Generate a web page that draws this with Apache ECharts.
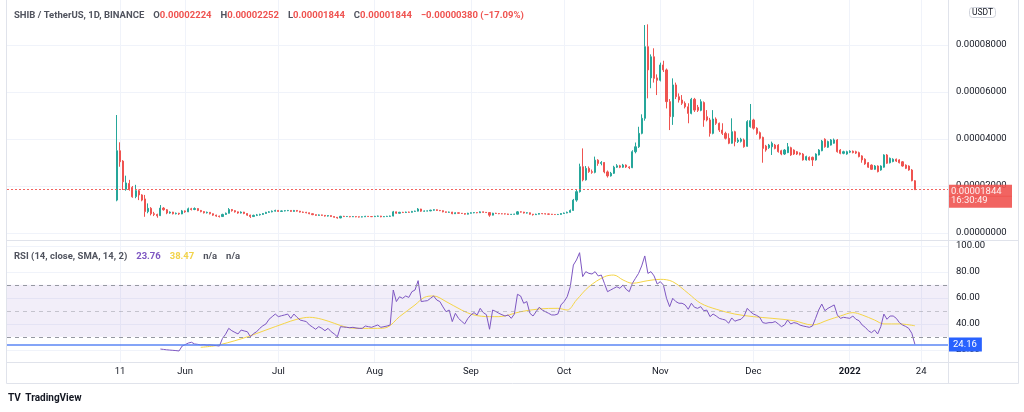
<!DOCTYPE html>
<html><head><meta charset="utf-8">
<script src="https://cdn.jsdelivr.net/npm/echarts@6/dist/echarts.min.js"></script>
<style>html,body{margin:0;padding:0;background:#fff}#c{width:1024px;height:412px}</style>
</head><body><div id="c"></div>
<script>
// SHIB/USDT daily candles, day 0 = 2021-05-10. Prices in micro-USDT (x 1e-6 USDT).
const firstDay = '2021-05-10';
const open = [
14.0,35.0,30.6,18.6,21.1,19.4,15.5,18.0,16.2,14.5,
9.1,10.5,8.2,7.9,7.4,10.6,9.9,8.5,8.9,8.2,
8.4,8.1,9.4,9.0,10.3,10.0,10.4,9.6,9.1,8.6,
8.8,8.2,7.6,7.2,7.0,7.9,8.4,10.0,9.5,9.0,
8.5,8.9,8.3,7.6,7.0,7.5,7.7,7.9,8.3,8.8,
9.0,9.3,9.6,9.2,9.4,9.5,9.6,9.2,9.6,9.3,
8.9,8.8,8.6,8.2,7.8,7.5,7.7,7.5,7.2,7.4,
7.0,6.7,6.4,7.1,7.0,7.05,6.9,7.0,6.9,6.8,
6.9,7.1,7.0,6.95,7.1,7.2,6.9,7.0,7.1,7.2,
9.0,8.4,8.8,8.7,8.9,8.8,9.2,9.3,10.2,9.3,
9.35,9.4,9.7,9.9,9.6,9.5,9.0,8.8,8.9,8.2,
8.6,8.4,8.3,8.0,8.4,8.6,8.7,8.6,9.0,8.8,
8.7,7.6,8.4,8.3,8.2,8.15,8.1,7.9,7.95,8.0,
9.0,8.9,8.5,8.6,8.0,7.8,8.0,8.3,8.2,8.1,
8.0,7.9,7.85,7.9,8.3,8.5,8.8,9.6,14.0,17.6,
28.2,22.6,27.5,26.1,25.8,31.0,29.6,30.0,26.0,24.3,
25.4,28.0,28.6,28.0,28.9,28.1,27.8,34.6,36.7,42.4,
48.8,79.3,66.0,75.0,66.0,65.0,71.5,69.4,55.9,49.5,
63.0,58.0,56.6,55.2,53.7,50.9,56.9,53.5,52.2,55.5,
49.5,48.1,42.4,48.5,46.7,43.8,42.4,40.3,38.2,43.1,
38.9,39.0,39.6,36.9,45.2,48.1,44.6,42.7,40.7,37.0,
36.3,36.7,37.4,37.4,35.0,33.6,34.2,36.3,35.3,34.6,
34.0,33.6,31.1,32.2,32.2,31.1,33.2,35.0,39.9,36.5,
37.4,38.2,39.6,35.3,33.9,33.6,34.4,34.8,34.6,34.2,
32.8,31.4,29.9,28.9,27.1,28.5,26.8,28.0,33.2,29.9,
30.4,31.4,31.1,30.3,28.9,28.5,26.8,22.24];
const close = [
35.0,30.3,21.8,21.3,18.6,15.4,18.0,16.2,14.0,9.1,
10.5,8.2,7.9,7.3,10.6,9.9,8.5,8.9,8.2,8.4,
8.1,9.4,9.0,10.3,10.0,10.4,9.6,9.1,8.6,8.8,
8.2,7.6,7.2,7.0,7.9,8.4,10.0,9.5,9.0,8.5,
8.9,8.3,7.6,7.0,7.5,7.7,7.9,8.3,8.8,9.0,
9.3,9.6,9.2,9.4,9.5,9.6,9.2,9.6,9.3,8.9,
8.8,8.6,8.2,7.8,7.5,7.7,7.5,7.2,7.4,7.0,
6.7,6.4,7.1,7.0,7.05,6.9,7.0,6.9,6.8,6.9,
7.1,7.0,6.95,7.1,7.2,6.9,7.0,7.1,7.2,9.0,
8.4,8.8,8.7,8.9,8.8,9.2,9.3,10.2,9.3,9.35,
9.4,9.7,9.9,9.6,9.5,9.0,8.8,8.9,8.2,8.6,
8.4,8.3,8.0,8.4,8.6,8.7,8.6,9.0,8.8,8.7,
7.6,8.4,8.3,8.2,8.15,8.1,7.9,7.95,8.0,9.0,
8.9,8.5,8.6,8.0,7.8,8.0,8.3,8.2,8.1,8.0,
7.9,7.85,7.9,8.3,8.5,8.8,9.6,14.0,17.6,28.2,
22.6,27.5,26.1,25.8,31.0,29.6,30.0,26.0,24.3,25.4,
28.0,28.6,28.0,28.9,28.1,27.8,34.6,36.7,42.4,48.8,
79.3,69.4,75.0,65.8,65.0,71.5,69.4,55.9,49.5,63.0,
58.0,56.6,55.2,53.7,50.9,56.9,52.3,52.2,55.9,48.1,
48.1,42.4,48.5,46.7,43.8,42.4,40.3,38.2,43.1,38.9,
39.6,39.9,36.7,47.4,47.8,44.6,42.4,40.3,36.0,35.3,
37.4,38.2,36.0,34.6,33.6,35.3,36.7,33.2,33.6,33.6,
33.5,31.1,32.5,31.1,31.1,33.6,35.3,39.1,36.7,38.9,
39.6,39.6,34.6,33.9,34.6,34.6,34.8,34.2,34.0,32.5,
31.1,29.4,28.0,27.1,28.5,26.1,28.5,33.2,29.7,31.8,
31.4,30.6,29.9,28.5,27.5,26.8,22.24,18.44];
const low = [
13.5,28.2,18.3,18.0,18.0,15.0,14.8,14.0,13.5,6.9,
8.4,7.5,7.2,6.5,7.2,9.5,8.0,8.2,7.9,7.9,
7.7,8.0,8.6,8.9,9.6,9.7,9.3,8.8,8.3,8.3,
7.9,7.3,6.9,6.6,6.9,7.7,8.3,9.1,8.7,8.2,
8.3,8.0,7.3,6.4,6.8,7.2,7.4,7.7,8.1,8.6,
8.8,9.1,9.0,9.0,9.2,9.3,9.0,9.1,9.1,8.7,
8.5,8.4,8.0,7.6,7.3,7.3,7.3,7.0,7.0,6.8,
6.5,6.1,6.3,6.8,6.8,6.7,6.8,6.7,6.6,6.7,
6.8,6.8,6.8,6.8,6.9,6.7,6.8,6.9,6.9,7.1,
8.2,8.3,8.5,8.5,8.6,8.7,9.0,9.2,9.0,9.1,
9.2,9.3,9.5,9.4,9.3,8.8,8.6,8.6,8.0,8.1,
8.2,8.1,7.8,7.9,8.3,8.4,8.4,8.5,8.6,8.5,
6.9,7.5,8.1,8.0,8.0,7.9,7.7,7.7,7.8,7.9,
8.7,8.3,8.3,7.8,7.4,7.7,7.9,8.0,7.9,7.8,
7.7,7.7,7.7,7.8,8.2,8.4,8.7,9.5,13.3,17.2,
22.0,22.3,25.6,25.2,25.4,28.6,28.8,25.4,23.6,24.0,
25.1,27.7,27.6,27.7,27.7,27.2,27.6,33.9,36.2,42.0,
47.8,57.3,61.6,64.0,58.7,64.5,68.5,53.0,43.8,46.0,
57.0,55.5,54.5,53.0,46.7,50.5,51.5,51.5,51.8,45.2,
47.5,41.0,42.0,46.0,43.0,41.7,39.8,37.8,38.0,36.9,
38.3,38.5,36.3,36.7,44.8,44.0,41.8,39.8,29.9,34.6,
35.8,33.2,35.6,34.2,33.1,33.2,34.0,32.8,33.2,33.2,
33.0,30.8,30.8,30.8,28.5,30.8,33.0,34.8,36.3,36.2,
37.2,38.0,34.2,33.5,33.5,33.3,34.0,33.9,33.6,32.2,
29.9,29.0,27.7,26.8,26.9,25.8,26.5,27.8,29.4,29.6,
30.1,30.2,29.6,28.2,27.2,26.5,22.0,18.44];
const high = [
50.2,38.6,31.0,24.4,22.6,20.0,20.5,18.5,16.5,16.2,
12.6,11.0,9.0,8.2,11.9,11.0,10.2,9.2,9.0,8.7,
8.6,9.8,9.6,10.8,10.7,10.9,10.5,9.8,9.3,9.1,
8.9,8.3,7.8,7.4,8.2,8.7,10.6,10.2,9.7,9.1,
9.2,9.0,8.4,7.8,7.8,8.1,8.2,8.5,9.0,9.3,
9.6,9.9,9.8,9.6,9.7,9.8,9.7,9.8,9.7,9.4,
9.1,9.0,8.7,8.3,7.9,7.9,7.8,7.6,7.5,7.5,
7.1,6.8,7.3,7.3,7.2,7.1,7.2,7.1,7.0,7.1,
7.3,7.2,7.2,7.3,7.4,7.3,7.2,7.3,7.4,9.4,
9.1,9.0,9.0,9.1,9.1,9.4,9.5,10.6,10.3,9.6,
9.6,9.9,10.1,10.0,9.8,9.6,9.1,9.1,9.0,8.8,
8.7,8.5,8.4,8.6,8.8,8.9,8.8,9.2,9.1,8.9,
8.8,8.6,8.6,8.4,8.4,8.3,8.2,8.1,8.2,9.3,
9.2,9.0,8.8,8.7,8.1,8.2,8.5,8.4,8.3,8.2,
8.1,8.0,8.1,8.5,8.7,9.1,10.0,14.5,18.5,29.5,
36.0,28.5,28.3,27.0,32.5,31.4,30.6,30.2,26.6,26.0,
28.6,29.3,29.0,29.4,29.2,28.4,35.2,38.5,45.2,50.5,
88.5,88.8,76.0,78.6,67.5,72.5,73.3,70.0,57.0,65.8,
64.0,59.4,58.7,56.0,55.2,57.5,57.5,54.5,56.9,56.0,
52.3,49.0,52.3,49.2,47.0,46.7,43.1,42.4,48.8,43.5,
40.5,40.5,40.2,48.0,54.9,48.6,45.0,43.2,41.0,37.5,
37.9,38.9,37.9,37.8,35.4,35.7,38.3,36.7,35.6,34.9,
34.3,34.0,32.9,32.6,32.5,33.9,35.7,39.6,40.3,39.3,
40.0,40.2,40.0,35.7,35.0,35.0,35.2,35.1,35.0,34.6,
33.1,31.8,30.2,29.2,28.9,28.8,28.8,33.5,33.6,32.1,
31.8,31.7,31.4,30.6,29.2,28.8,27.2,22.52];

// RSI(14), first value on day 14
const rsiStartDay = 14;
const rsi = [
20.6,20.3,20.0,19.8,19.6,19.4,
19.1,22.9,24.0,25.2,25.8,24.5,24.2,23.8,24.0,23.6,
23.8,23.5,23.2,22.9,28.8,32.0,36.5,34.7,33.4,32.2,
35.2,34.5,33.9,30.0,32.5,33.9,36.5,38.5,39.9,43.5,
45.5,47.5,45.5,46.2,46.8,47.5,44.2,47.5,45.0,42.9,
42.3,41.7,39.1,37.5,35.8,37.8,36.5,34.7,36.5,33.9,
32.2,30.0,37.8,37.5,37.3,37.0,37.3,36.8,36.5,36.5,
38.3,37.8,37.3,38.2,39.1,37.3,37.8,38.3,39.1,66.0,
57.1,60.8,59.6,61.4,60.3,64.7,66.0,73.2,57.1,57.5,
57.8,59.6,61.4,58.3,57.1,53.0,49.3,50.6,41.7,48.1,
44.2,42.0,39.9,44.0,46.8,48.6,46.8,51.9,48.6,47.0,
35.8,50.6,49.5,48.1,47.0,46.0,46.8,44.2,47.5,62.7,
61.4,55.8,57.1,48.1,46.0,49.3,52.7,50.6,49.3,48.1,
46.8,46.8,47.5,54.5,57.1,60.8,68.5,85.2,89.1,94.7,
76.3,80.1,78.8,78.3,80.1,76.8,77.5,71.1,64.7,66.0,
67.3,68.5,67.3,69.9,66.5,64.7,71.1,75.0,78.8,84.5,
92.2,78.8,80.1,76.8,70.6,72.4,69.8,59.6,53.2,59.6,
57.1,55.8,55.8,54.5,51.2,55.8,52.7,51.9,53.2,50.1,
50.5,45.5,47.5,46.0,44.2,43.5,42.9,40.4,44.5,42.0,
42.9,43.5,46.0,51.9,49.3,47.5,46.5,45.0,40.9,40.4,
40.9,40.9,41.7,39.9,37.8,39.1,42.9,39.9,40.9,40.4,
39.0,38.3,37.8,37.3,38.3,44.2,50.6,55.2,50.1,51.9,
53.2,54.5,46.8,44.2,45.0,44.6,44.2,46.0,43.5,42.4,
39.1,37.3,34.7,33.2,35.2,32.2,37.8,47.5,43.5,46.0,
46.0,44.2,40.9,39.1,38.0,36.5,32.7,24.16];

// RSI-based SMA(14), values
const rsiMaDays = [27,31,33,38,42,48,54,58,62,66,70,74,78,84,87,91,96,99,102,106,111,115,120,123,130,136,142,145,148,152,157,160,163,166,171,175,179,184,188,193,199,205,211,218,224,229,233,237,240,244,247,252,257];
const rsiMaValues = [21.9,22.9,23.8,27.0,30.0,35.2,40.4,43.5,45.0,43.5,40.4,37.3,36.5,36.5,37.3,45.5,54.5,60.3,61.4,57.1,50.6,46.8,45.5,45.5,49.3,51.4,51.9,50.6,58.3,68.5,76.2,77.5,73.7,71.2,73.2,74.2,72.4,63.4,55.8,51.2,47.5,45.5,44.2,42.4,39.1,42.9,46.0,48.6,46.8,42.9,39.9,39.9,38.47];

const timeTickDays = [1,22,52,83,114,144,175,205,236,259];
const timeTickLabels = ['11','Jun','Jul','Aug','Sep','Oct','Nov','Dec','2022','24'];
const priceTicks = [0,20,40,60,80];
const rsiTicks = [20,40,60,80,100];
const rsiLevels = [70,50,30];

const headerText = '{g|SHIB / TetherUS, 1D, BINANCE}  {g|O}{r|0.00002224}  {g|H}{r|0.00002252}  {g|L}{r|0.00001844}  {g|C}{r|0.00001844}  {r|\u22120.00000380 (\u221217.09%)}';
const rsiHeaderText = '{g|RSI (14, close, SMA, 14, 2)}  {p|23.76}  {y|38.47}  {g|n/a}  {g|n/a}';
const countdown = '16:30:49';

const FONT = 'Roboto, "Noto Sans", sans-serif';
const FS = 9.5;
const GRID = '#f0f3fa';
const BORDER = '#e0e3eb';
const TXT = '#131722';
const UP = '#26a69a', DOWN = '#ef5350';

const candles = open.map((o, i) => [i, o, close[i], low[i], high[i]]);
const rsiData = rsi.map((v, i) => [rsiStartDay + i, v]);
const maData = rsiMaDays.map((d, i) => [d, rsiMaValues[i]]);
const lastClose = close[close.length - 1];
const lastRsi = rsi[rsi.length - 1];
const fmtPrice = v => (v / 1e6).toFixed(8);

const xMin = -35.4, xMax = 267.65;

const chart = echarts.init(document.getElementById('c'), null, {renderer: 'canvas'});
const frame = (x1, y1, x2, y2) => ({type: 'line', silent: true, z: 50, shape: {x1, y1, x2, y2}, style: {stroke: BORDER, lineWidth: 1}});

chart.setOption({
  animation: false,
  backgroundColor: '#ffffff',
  textStyle: {fontFamily: FONT},
  title: [
    {left: 14, top: 7, padding: 0, text: headerText, textStyle: {rich: {
      g: {color: '#50535e', fontSize: FS, fontFamily: FONT},
      r: {color: DOWN, fontSize: FS, fontFamily: FONT}}}},
    {left: 14, top: 248, padding: 0, text: rsiHeaderText, textStyle: {rich: {
      g: {color: '#50535e', fontSize: FS, fontFamily: FONT},
      p: {color: '#7e57c2', fontSize: FS, fontFamily: FONT},
      y: {color: '#f2d34b', fontSize: FS, fontFamily: FONT}}}},
    {left: 969, top: 7, padding: [1, 3, 1, 3], borderColor: '#d1d4dc', borderWidth: 1, borderRadius: 3,
      text: 'USDT', textStyle: {color: TXT, fontSize: 8.5, fontWeight: 'normal', fontFamily: FONT}},
    {left: 8, top: 389, padding: 0, text: '{l|TV} {t|TradingView}', textStyle: {rich: {
      l: {color: '#131722', fontSize: 10, fontWeight: 'bold', fontFamily: FONT},
      t: {color: '#131722', fontSize: 10, fontFamily: FONT}}}}
  ],
  grid: [
    {left: 7, top: 0, width: 941, height: 240, outerBoundsMode: 'none'},
    {left: 7, top: 240, width: 941, height: 122, outerBoundsMode: 'none'}
  ],
  xAxis: [
    {type: 'value', gridIndex: 0, min: xMin, max: xMax,
      axisLine: {show: false}, axisTick: {show: false, customValues: timeTickDays},
      axisLabel: {show: false, customValues: timeTickDays},
      splitLine: {show: true, lineStyle: {color: GRID, width: 1}}},
    {type: 'value', gridIndex: 1, min: xMin, max: xMax,
      axisLine: {show: false}, axisTick: {show: false, customValues: timeTickDays},
      axisLabel: {show: true, customValues: timeTickDays, margin: 5, color: TXT, fontSize: FS, fontFamily: FONT,
        formatter: v => {
          const k = timeTickDays.indexOf(Math.round(v));
          const t = k >= 0 ? timeTickLabels[k] : '';
          return /^\d{4}$/.test(t) ? '{b|' + t + '}' : t;
        },
        rich: {b: {fontWeight: 'bold', color: TXT, fontSize: FS, fontFamily: FONT}}},
      splitLine: {show: true, lineStyle: {color: GRID, width: 1}}}
  ],
  yAxis: [
    {type: 'value', gridIndex: 0, position: 'right', min: -2.98, max: 99.15,
      axisLine: {show: false}, axisTick: {show: false, customValues: priceTicks},
      axisLabel: {customValues: priceTicks, formatter: fmtPrice, margin: 8, color: TXT, fontSize: FS, fontFamily: FONT},
      splitLine: {show: true, lineStyle: {color: GRID, width: 1}}},
    {type: 'value', gridIndex: 1, position: 'right', min: 10.62, max: 104.46,
      axisLine: {show: false}, axisTick: {show: false, customValues: rsiTicks},
      axisLabel: {customValues: rsiTicks, formatter: v => v.toFixed(2), margin: 8, color: TXT, fontSize: FS, fontFamily: FONT},
      splitLine: {show: true, lineStyle: {color: GRID, width: 1}}}
  ],
  series: [
    {type: 'candlestick', name: 'SHIB', xAxisIndex: 0, yAxisIndex: 0,
      data: candles, encode: {x: 0, y: [1, 2, 3, 4]},
      barWidth: 1.6, large: false, progressive: 0,
      itemStyle: {color: UP, color0: DOWN, borderColor: UP, borderColor0: DOWN, borderWidth: 1},
      markLine: {silent: true, symbol: ['none', 'none'], animation: false,
        data: [{yAxis: lastClose,
          lineStyle: {color: DOWN, type: [2, 2], width: 1, opacity: 0.9},
          label: {show: true, position: 'end', distance: 0,
            formatter: () => '{e| }\n{a|' + fmtPrice(lastClose) + '}\n{b|' + countdown + '}',
            rich: {
              e: {height: 13, lineHeight: 13, fontSize: 1},
              a: {backgroundColor: DOWN, color: '#fff', width: 58, padding: [2, 3, 0, 3], fontSize: FS, lineHeight: 11, fontFamily: FONT},
              b: {backgroundColor: DOWN, color: '#fff', width: 58, padding: [0, 3, 2, 3], fontSize: FS, lineHeight: 11, fontFamily: FONT}
            }}}]}},
    {type: 'line', name: 'RSI', xAxisIndex: 1, yAxisIndex: 1, data: rsiData,
      showSymbol: false, symbol: 'none', lineStyle: {color: '#7e57c2', width: 1}, itemStyle: {color: '#7e57c2'}, z: 4,
      markArea: {silent: true, itemStyle: {color: 'rgba(126,87,194,0.1)'},
        data: [[{yAxis: rsiLevels[2]}, {yAxis: rsiLevels[0]}]]},
      markLine: {silent: true, symbol: ['none', 'none'], animation: false,
        data: [
          {yAxis: rsiLevels[0], lineStyle: {color: '#9598a1', type: [4, 4], width: 1}, label: {show: false}},
          {yAxis: rsiLevels[1], lineStyle: {color: 'rgba(149,152,161,0.5)', type: [4, 4], width: 1}, label: {show: false}},
          {yAxis: rsiLevels[2], lineStyle: {color: '#9598a1', type: [4, 4], width: 1}, label: {show: false}},
          {yAxis: lastRsi, lineStyle: {color: '#5b86f5', type: 'solid', width: 1.5},
            label: {show: true, position: 'end', distance: 0, formatter: () => lastRsi.toFixed(2),
              backgroundColor: '#2962ff', color: '#fff', padding: [2, 5, 2, 5], fontSize: FS, fontFamily: FONT}}
        ]}},
    {type: 'line', name: 'RSI MA', xAxisIndex: 1, yAxisIndex: 1, data: maData, smooth: 0.35,
      showSymbol: false, symbol: 'none', lineStyle: {color: '#f5d547', width: 1}, itemStyle: {color: '#f5d547'}, z: 3}
  ],
  graphic: [
    frame(6.5, 0, 6.5, 383.5),
    frame(1018.5, 0, 1018.5, 383.5),
    frame(948.5, 0, 948.5, 383.5),
    frame(6.5, 240.5, 1018.5, 240.5),
    frame(6.5, 362.5, 1018.5, 362.5),
    frame(6.5, 383.5, 1018.5, 383.5)
  ]
});
</script>
</body></html>
